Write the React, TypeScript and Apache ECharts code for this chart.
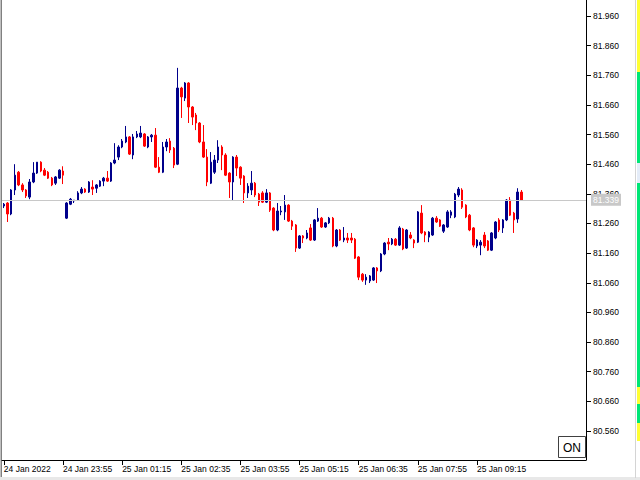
import React, { useEffect, useRef } from "react";
import * as echarts from "echarts";

// OHLC of 5-minute bars (USDJPY-like)
const opens = [
  81.319, 81.329, 81.292, 81.373, 81.433, 81.390, 81.373, 81.349, 81.400, 81.430,
  81.467, 81.440, 81.433, 81.413, 81.396, 81.413, 81.437, 81.278, 81.325, 81.336,
  81.339, 81.363, 81.376, 81.366, 81.383, 81.379, 81.386, 81.403, 81.413, 81.403,
  81.464, 81.484, 81.518, 81.535, 81.552, 81.491, 81.552, 81.552, 81.562, 81.518,
  81.552, 81.558, 81.450, 81.433, 81.518, 81.538, 81.514, 81.460, 81.717, 81.683,
  81.734, 81.653, 81.626, 81.599, 81.535, 81.484, 81.396, 81.433, 81.474, 81.518,
  81.491, 81.430, 81.400, 81.484, 81.450, 81.420, 81.363, 81.373, 81.396, 81.359,
  81.363, 81.332, 81.363, 81.312, 81.238, 81.299, 81.299, 81.322, 81.268, 81.255,
  81.177, 81.218, 81.211, 81.245, 81.204, 81.268, 81.278, 81.248, 81.262, 81.278,
  81.184, 81.238, 81.204, 81.211, 81.211, 81.207, 81.147, 81.089, 81.069, 81.066,
  81.069, 81.110, 81.100, 81.157, 81.197, 81.191, 81.207, 81.187, 81.241, 81.177,
  81.221, 81.204, 81.197, 81.295, 81.231, 81.214, 81.221, 81.278, 81.272, 81.234,
  81.248, 81.288, 81.282, 81.356, 81.373, 81.322, 81.288, 81.245, 81.184, 81.187,
  81.221, 81.201, 81.170, 81.211, 81.272, 81.245, 81.272, 81.339, 81.295, 81.275,
  81.366,
];
const closes = [
  81.325, 81.292, 81.373, 81.423, 81.390, 81.373, 81.353, 81.400, 81.430, 81.467,
  81.437, 81.423, 81.413, 81.390, 81.417, 81.440, 81.423, 81.329, 81.342, 81.339,
  81.363, 81.376, 81.366, 81.400, 81.376, 81.390, 81.403, 81.413, 81.403, 81.464,
  81.474, 81.518, 81.538, 81.552, 81.494, 81.552, 81.562, 81.565, 81.521, 81.552,
  81.558, 81.450, 81.433, 81.518, 81.535, 81.508, 81.457, 81.717, 81.687, 81.734,
  81.653, 81.619, 81.599, 81.535, 81.484, 81.400, 81.467, 81.474, 81.518, 81.491,
  81.423, 81.400, 81.484, 81.447, 81.413, 81.363, 81.386, 81.396, 81.356, 81.332,
  81.332, 81.363, 81.305, 81.238, 81.302, 81.302, 81.322, 81.268, 81.251, 81.177,
  81.218, 81.211, 81.228, 81.204, 81.272, 81.278, 81.248, 81.262, 81.278, 81.184,
  81.238, 81.204, 81.211, 81.204, 81.204, 81.143, 81.079, 81.069, 81.079, 81.083,
  81.110, 81.100, 81.157, 81.194, 81.191, 81.207, 81.187, 81.245, 81.174, 81.238,
  81.211, 81.194, 81.299, 81.228, 81.221, 81.231, 81.278, 81.265, 81.251, 81.255,
  81.299, 81.299, 81.359, 81.376, 81.315, 81.282, 81.238, 81.187, 81.204, 81.197,
  81.184, 81.170, 81.228, 81.265, 81.238, 81.272, 81.339, 81.288, 81.272, 81.366,
  81.339,
];
const lows = [
  81.312, 81.265, 81.288, 81.356, 81.386, 81.366, 81.346, 81.342, 81.396, 81.427,
  81.433, 81.420, 81.410, 81.386, 81.390, 81.410, 81.393, 81.275, 81.322, 81.329,
  81.336, 81.359, 81.363, 81.363, 81.356, 81.363, 81.383, 81.386, 81.400, 81.400,
  81.460, 81.474, 81.514, 81.531, 81.491, 81.477, 81.548, 81.548, 81.518, 81.514,
  81.535, 81.447, 81.430, 81.430, 81.504, 81.498, 81.447, 81.457, 81.616, 81.673,
  81.599, 81.592, 81.575, 81.531, 81.481, 81.386, 81.393, 81.427, 81.464, 81.440,
  81.420, 81.346, 81.339, 81.420, 81.390, 81.329, 81.346, 81.356, 81.349, 81.319,
  81.329, 81.329, 81.299, 81.234, 81.234, 81.288, 81.272, 81.265, 81.238, 81.164,
  81.174, 81.194, 81.207, 81.201, 81.201, 81.265, 81.245, 81.245, 81.258, 81.180,
  81.180, 81.201, 81.197, 81.194, 81.194, 81.140, 81.069, 81.063, 81.053, 81.059,
  81.066, 81.059, 81.096, 81.153, 81.170, 81.187, 81.184, 81.184, 81.170, 81.174,
  81.207, 81.177, 81.194, 81.224, 81.197, 81.197, 81.218, 81.262, 81.248, 81.228,
  81.245, 81.278, 81.278, 81.349, 81.309, 81.278, 81.234, 81.180, 81.177, 81.153,
  81.177, 81.167, 81.167, 81.207, 81.231, 81.228, 81.268, 81.285, 81.228, 81.262,
  81.336,
];
const highs = [
  81.329, 81.332, 81.376, 81.460, 81.437, 81.396, 81.376, 81.410, 81.467, 81.467,
  81.470, 81.447, 81.437, 81.417, 81.420, 81.443, 81.453, 81.332, 81.346, 81.339,
  81.369, 81.383, 81.379, 81.403, 81.406, 81.393, 81.406, 81.417, 81.437, 81.467,
  81.531, 81.524, 81.545, 81.589, 81.555, 81.562, 81.572, 81.589, 81.565, 81.555,
  81.562, 81.582, 81.484, 81.535, 81.545, 81.548, 81.518, 81.785, 81.721, 81.737,
  81.737, 81.656, 81.633, 81.602, 81.592, 81.511, 81.501, 81.491, 81.541, 81.524,
  81.497, 81.433, 81.487, 81.491, 81.453, 81.423, 81.396, 81.437, 81.400, 81.363,
  81.369, 81.376, 81.366, 81.315, 81.329, 81.319, 81.356, 81.325, 81.272, 81.258,
  81.221, 81.221, 81.238, 81.258, 81.275, 81.312, 81.282, 81.265, 81.282, 81.282,
  81.241, 81.241, 81.248, 81.228, 81.228, 81.211, 81.150, 81.093, 81.089, 81.086,
  81.113, 81.113, 81.160, 81.197, 81.211, 81.211, 81.211, 81.251, 81.245, 81.241,
  81.231, 81.207, 81.302, 81.322, 81.234, 81.234, 81.282, 81.285, 81.275, 81.258,
  81.305, 81.305, 81.363, 81.383, 81.379, 81.325, 81.292, 81.248, 81.207, 81.204,
  81.231, 81.204, 81.231, 81.268, 81.278, 81.275, 81.342, 81.349, 81.299, 81.379,
  81.373,
];

const tickLabels = [
  "24 Jan 2022", "24 Jan 23:55", "25 Jan 01:15", "25 Jan 02:35", "25 Jan 03:55",
  "25 Jan 05:15", "25 Jan 06:35", "25 Jan 07:55", "25 Jan 09:15",
];
const priceTicks = [
  80.56, 80.66, 80.76, 80.86, 80.96, 81.06, 81.16, 81.26, 81.36, 81.46,
  81.56, 81.66, 81.76, 81.86, 81.96,
];
const currentPrice = 81.339;
const totalSlots = 158; // bars visible incl. empty right shift
const labelEvery = 16;

const categories: string[] = [];
for (let i = 0; i < totalSlots; i++) {
  const m = 22 * 60 + 35 + 5 * i;
  const day = m >= 1440 ? 25 : 24;
  const mm = m % 1440;
  categories.push(
    `${day} Jan ${String(Math.floor(mm / 60)).padStart(2, "0")}:${String(mm % 60).padStart(2, "0")}`
  );
}

const FONT = "Liberation Sans, Arial, sans-serif";
const BLUE = "#00008B";
const RED = "#FF0000";

export default function App() {
  const ref = useRef<HTMLDivElement>(null);
  useEffect(() => {
    if (!ref.current) return;
    const chart = echarts.init(ref.current, undefined, { renderer: "svg" });
    const candles = opens.map((o, i) => [o, closes[i], lows[i], highs[i]]);
    const showIdx = (i: number) => i % labelEvery === 0 && i / labelEvery < tickLabels.length;
    chart.setOption({
      animation: false,
      backgroundColor: "#ffffff",
      grid: { left: 2, right: 54, top: 0, bottom: 20, containLabel: false, outerBoundsMode: "none" },
      xAxis: {
        type: "category",
        data: categories,
        boundaryGap: true,
        axisLine: { show: true, lineStyle: { color: "#000", width: 1 } },
        axisTick: {
          show: true,
          alignWithLabel: true,
          length: 5,
          interval: (i: number) => showIdx(i),
          lineStyle: { color: "#000" },
        },
        axisLabel: {
          interval: (i: number) => showIdx(i),
          formatter: (_v: string, i: number) => tickLabels[Math.round(i / labelEvery)] ?? "",
          align: "left",
          margin: 4,
          fontSize: 8.5,
          fontFamily: FONT,
          color: "#000",
        },
        splitLine: { show: false },
      },
      yAxis: {
        type: "value",
        position: "right",
        min: 80.462,
        max: 82.014,
        scale: true,
        splitLine: { show: false },
        axisLine: { show: true, lineStyle: { color: "#000", width: 1 } },
        axisTick: { show: true, customValues: priceTicks, length: 5, lineStyle: { color: "#000" } },
        axisLabel: {
          customValues: priceTicks,
          formatter: (v: number) => v.toFixed(3),
          margin: 7,
          fontSize: 8.5,
          fontFamily: FONT,
          color: "#000",
        },
      },
      series: [
        {
          type: "candlestick",
          data: candles,
          barWidth: 2,
          itemStyle: {
            color: BLUE,
            color0: RED,
            borderColor: BLUE,
            borderColor0: RED,
            borderWidth: 1,
          },
          markLine: {
            silent: true,
            symbol: ["none", "none"],
            data: [{ yAxis: currentPrice }],
            lineStyle: { color: "#c8c8c8", type: "solid", width: 1 },
            label: {
              show: true,
              position: "end",
              formatter: currentPrice.toFixed(3),
              backgroundColor: "#c8c8c8",
              color: "#ffffff",
              fontSize: 8.5,
              fontFamily: FONT,
              padding: [2, 2, 1, 2],
              distance: 5,
            },
          },
        },
      ],
      graphic: [
        { type: "rect", left: 0, top: 0, shape: { x: 0, y: 0, width: 1, height: 478 }, style: { fill: "#c0c0c0" } },
        { type: "rect", left: 1, top: 0, shape: { x: 0, y: 0, width: 1, height: 478 }, style: { fill: "#808080" } },
        { type: "rect", left: 0, top: 477, shape: { x: 0, y: 0, width: 640, height: 3 }, style: { fill: "#e8e8e8" } },
        { type: "rect", left: 635, top: 0, shape: { x: 0, y: 0, width: 1, height: 478 }, style: { fill: "#d4d4d4" } },
        { type: "rect", left: 637, top: 0, shape: { x: 0, y: 0, width: 3, height: 72 }, style: { fill: "#ffff33" } },
        { type: "rect", left: 637, top: 72, shape: { x: 0, y: 0, width: 3, height: 91 }, style: { fill: "#00e676" } },
        { type: "rect", left: 637, top: 163, shape: { x: 0, y: 0, width: 3, height: 20 }, style: { fill: "#e4ecf8" } },
        { type: "rect", left: 637, top: 183, shape: { x: 0, y: 0, width: 3, height: 204 }, style: { fill: "#00e676" } },
        { type: "rect", left: 637, top: 387, shape: { x: 0, y: 0, width: 3, height: 17 }, style: { fill: "#ffff33" } },
        { type: "rect", left: 637, top: 404, shape: { x: 0, y: 0, width: 3, height: 19 }, style: { fill: "#00e676" } },
        { type: "rect", left: 637, top: 423, shape: { x: 0, y: 0, width: 3, height: 18 }, style: { fill: "#ffff33" } },
        {
          type: "group",
          left: 558,
          top: 436,
          children: [
            { type: "rect", shape: { x: 0.5, y: 0.5, width: 27, height: 21 }, style: { fill: "#ffffff", stroke: "#404040", lineWidth: 1 } },
            {
              type: "text",
              x: 14,
              y: 11.5,
              style: { text: "ON", fontSize: 12, fontFamily: FONT, fill: "#000", align: "center", verticalAlign: "middle" },
            },
          ],
        },
      ],
    });
    return () => chart.dispose();
  }, []);
  return (
    <div
      ref={ref}
      style={{ position: "absolute", left: 0, top: 0, width: 640, height: 480 }}
    />
  );
}
